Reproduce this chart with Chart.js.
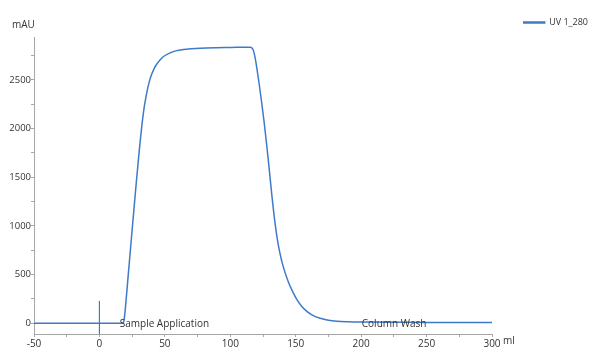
<!DOCTYPE html>
<html>
<head>
<meta charset="utf-8">
<script src="https://cdn.jsdelivr.net/npm/chart.js@4.4.1/dist/chart.umd.min.js"></script>
<style>
  html, body { margin: 0; padding: 0; background: #ffffff; }
  #wrap { width: 590px; height: 349px; position: relative; }
</style>
</head>
<body>
<div id="wrap"><canvas id="c" width="590" height="349"></canvas></div>
<script>
// ---- data ----
const volumeMl = [-50, 0, 17, 18.3, 19, 20, 21.6, 23, 25, 26.5, 28, 29.5, 31, 32.5, 34, 35.5, 37, 38.5, 40, 42, 44, 46.3, 49, 54, 59, 64, 70, 77, 90, 100, 110, 115, 116.6, 117.7, 119, 120.3, 122, 124, 126, 128, 130, 132, 134, 136, 138, 140, 142, 144.4, 147.5, 150.8, 154.5, 158.5, 163, 168.7, 175, 181.4, 190, 199.2, 250, 300];
const uv280 = [0, 0, 0, 5, 50, 180, 430, 650, 960, 1190, 1420, 1640, 1850, 2040, 2200, 2320, 2420, 2500, 2560, 2620, 2665, 2705, 2740, 2777, 2800, 2811, 2819, 2825, 2830, 2832, 2835, 2836, 2826, 2800, 2725, 2620, 2465, 2265, 2050, 1810, 1550, 1285, 1050, 860, 715, 605, 515, 425, 330, 245, 175, 122, 82, 52, 32, 21, 15, 12, 9, 7];
const seriesName = 'UV 1_280';

// injection marker (vertical line at 0 ml)
const markerVolume = [0, 0];
const markerLevel = [-110, 230];

// run log texts
const logLabels = ['Sample Application', 'Column Wash'];
const logVolumes = [15.5, 200.5];

// axes
const xTicks = [-50, -25, 0, 25, 50, 75, 100, 125, 150, 175, 200, 225, 250, 275, 300];
const xLabelled = [-50, 0, 50, 100, 150, 200, 250, 300];
const yTicks = [0, 250, 500, 750, 1000, 1250, 1500, 1750, 2000, 2250, 2500, 2750];
const yLabelled = [0, 500, 1000, 1500, 2000, 2500];
const xTitle = 'ml';
const yTitle = 'mAU';

const BLUE = 'rgb(62,122,202)';
const AXIS = '#a6a6a6';
const TXT = '#333333';
const FONT = 'Open Sans';

const textPlugin = {
  id: 'texts',
  afterDatasetsDraw(chart) {
    const ctx = chart.ctx, xs = chart.scales.x, ys = chart.scales.y, a = chart.chartArea;
    ctx.save();
    ctx.fillStyle = TXT;
    ctx.font = '10px "' + FONT + '"';
    ctx.textAlign = 'left';
    ctx.textBaseline = 'alphabetic';
    logLabels.forEach((t, i) => {
      ctx.fillText(t, xs.getPixelForValue(logVolumes[i]), ys.getPixelForValue(0) + 4);
    });
    ctx.fillText(yTitle, 12, a.top - 9.5);
    ctx.fillText(xTitle, a.right + 11, a.bottom + 10);
    ctx.restore();
  }
};

new Chart(document.getElementById('c'), {
  type: 'line',
  data: {
    datasets: [
      {
        label: seriesName,
        data: volumeMl.map((v, i) => ({ x: v, y: uv280[i] })),
        borderColor: BLUE,
        backgroundColor: BLUE,
        borderWidth: 1.5,
        pointRadius: 0,
        cubicInterpolationMode: 'monotone',
        fill: false
      },
      {
        label: 'marker',
        data: markerVolume.map((v, i) => ({ x: v, y: markerLevel[i] })),
        borderColor: BLUE,
        backgroundColor: BLUE,
        borderWidth: 1.2,
        pointRadius: 0,
        fill: false
      }
    ]
  },
  options: {
    responsive: false,
    animation: false,
    layout: { padding: { top: 16, right: 0, left: 0, bottom: 0 } },
    plugins: {
      legend: {
        position: 'top',
        align: 'end',
        maxHeight: 21,
        labels: {
          filter: (item) => item.datasetIndex === 0,
          font: { family: FONT, size: 9 },
          color: TXT,
          boxWidth: 21,
          boxHeight: 1,
          padding: 2
        }
      },
      tooltip: { enabled: false }
    },
    scales: {
      x: {
        type: 'linear',
        min: -50,
        max: 300,
        afterBuildTicks: (s) => { s.ticks = xTicks.map(v => ({ value: v })); },
        afterFit: (s) => { s.height = 15; },
        ticks: {
          autoSkip: false,
          maxRotation: 0,
          padding: 1,
          color: TXT,
          font: { family: FONT, size: 10 },
          callback: (v) => xLabelled.includes(v) ? String(v) : ''
        },
        grid: { display: true, drawOnChartArea: false, drawTicks: true, tickLength: 3, color: AXIS },
        border: { display: true, color: AXIS, width: 1 }
      },
      y: {
        type: 'linear',
        min: -110,
        max: 2940,
        afterBuildTicks: (s) => { s.ticks = yTicks.map(v => ({ value: v })); },
        afterFit: (s) => { s.width = 34; },
        ticks: {
          autoSkip: false,
          padding: 0,
          color: TXT,
          font: { family: FONT, size: 9.5 },
          callback: (v) => yLabelled.includes(v) ? String(v) : ''
        },
        grid: { display: true, drawOnChartArea: false, drawTicks: true, tickLength: 3, color: AXIS },
        border: { display: true, color: AXIS, width: 1 }
      },
      yPad: {
        type: 'linear',
        position: 'right',
        display: true,
        afterFit: (s) => { s.width = 98; },
        ticks: { display: false },
        grid: { display: false, drawTicks: false },
        border: { display: false }
      }
    }
  },
  plugins: [textPlugin]
});
</script>
</body>
</html>
